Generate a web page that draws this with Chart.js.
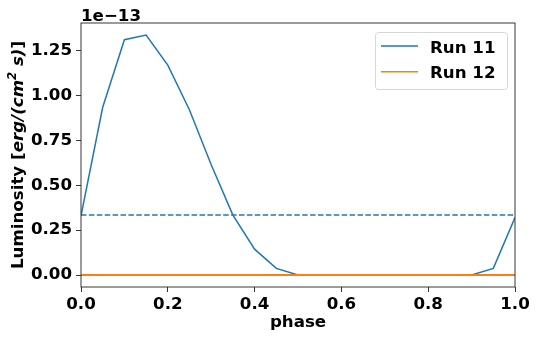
<!DOCTYPE html>
<html>
<head>
<meta charset="utf-8">
<script src="https://cdn.jsdelivr.net/npm/chart.js@4"></script>
<style>
html,body{margin:0;padding:0;background:#fff;}
#wrap{width:538px;height:340px;position:relative;}
</style>
</head>
<body>
<div id="wrap"><canvas id="c" width="538" height="340"></canvas></div>
<script>
// Data (luminosity in units of 1e-13 erg/(cm^2 s))
const phase = [0.00,0.05,0.10,0.15,0.20,0.25,0.30,0.35,0.40,0.45,0.50,0.55,0.60,0.65,0.70,0.75,0.80,0.85,0.90,0.95,1.00];
const run11 = [0.330,0.935,1.312,1.338,1.170,0.920,0.615,0.334,0.144,0.037,0.000,0.000,0.000,0.000,0.000,0.000,0.000,0.000,0.000,0.037,0.320];
const run12 = [0,0,0,0,0,0,0,0,0,0,0,0,0,0,0,0,0,0,0,0,0];
const run11Mean = 0.334;
const run12Mean = 0.000;
const seriesLabels = ["Run 11", "Run 12"];
const xTicks = [0.0,0.2,0.4,0.6,0.8,1.0];
const yTicks = [0.00,0.25,0.50,0.75,1.00,1.25];
const offsetText = "1e\u221213";
const xTitle = "phase";

const FONT = "'DejaVu Sans'";
const FS = 16.67;
const C1 = '#1f77b4', C2 = '#ff7f0e';

const pts = (xs, ys) => xs.map((x,i)=>({x:x, y:ys[i]}));
const meanPts = (m) => [{x:phase[0], y:m},{x:phase[phase.length-1], y:m}];

const overlay = {
  id:'overlay',
  afterDraw(chart){
    const ctx = chart.ctx, a = chart.chartArea;
    ctx.save();
    // frame
    ctx.strokeStyle = '#222'; ctx.lineWidth = 0.9;
    ctx.strokeRect(a.left, a.top, a.right-a.left, a.bottom-a.top);
    // offset text
    ctx.fillStyle = '#000';
    ctx.font = `bold ${FS}px ${FONT}`;
    ctx.textAlign = 'left'; ctx.textBaseline = 'alphabetic';
    ctx.fillText(offsetText, a.left, 20.5);
    // legend
    const lx = 375, ly = 32, lw = 132, lh = 57;
    ctx.fillStyle = 'rgba(255,255,255,0.8)';
    ctx.strokeStyle = '#d6d6d6'; ctx.lineWidth = 1;
    ctx.beginPath();
    if (ctx.roundRect) ctx.roundRect(lx+0.5, ly+0.5, lw, lh, 3); else ctx.rect(lx+0.5, ly+0.5, lw, lh);
    ctx.fill(); ctx.stroke();
    const ds = chart.data.datasets.filter(d => seriesLabels.includes(d.label));
    ds.forEach((d, i) => {
      const yy = 46 + i*25.7;
      ctx.strokeStyle = d.borderColor; ctx.lineWidth = 1.5; ctx.setLineDash([]);
      ctx.beginPath(); ctx.moveTo(381, yy); ctx.lineTo(418, yy); ctx.stroke();
      ctx.fillStyle = '#000';
      ctx.font = `bold ${FS}px ${FONT}`;
      ctx.textBaseline = 'alphabetic';
      ctx.fillText(d.label, 430, yy + 6.5);
    });
    // y-axis label (rich text)
    const segs = [
      {t:'Luminosity [', f:`bold ${FS}px ${FONT}`, dy:0},
      {t:'erg/(cm', f:`italic bold ${FS}px ${FONT}`, dy:0},
      {t:'2', f:`italic bold ${FS*0.7}px ${FONT}`, dy:-7},
      {t:' s)', f:`italic bold ${FS}px ${FONT}`, dy:0},
      {t:']', f:`bold ${FS}px ${FONT}`, dy:0}
    ];
    let total = 0;
    segs.forEach(s => { ctx.font = s.f; s.w = ctx.measureText(s.t).width; total += s.w; });
    ctx.translate(23, (a.top + a.bottom)/2);
    ctx.rotate(-Math.PI/2);
    let cx = -total/2;
    ctx.fillStyle = '#000'; ctx.textAlign = 'left'; ctx.textBaseline = 'alphabetic';
    segs.forEach(s => { ctx.font = s.f; ctx.fillText(s.t, cx, s.dy); cx += s.w; });
    ctx.restore();
  }
};

new Chart(document.getElementById('c'), {
  type: 'line',
  data: {
    datasets: [
      {label: seriesLabels[0], data: pts(phase, run11), borderColor: C1, backgroundColor: C1, borderWidth: 1.5, pointRadius: 0, tension: 0, order: 4},
      {label: seriesLabels[0] + ' mean', data: meanPts(run11Mean), borderColor: C1, borderWidth: 1.5, borderDash: [5.5, 2.4], pointRadius: 0, order: 3},
      {label: seriesLabels[1], data: pts(phase, run12), borderColor: C2, backgroundColor: C2, borderWidth: 2, pointRadius: 0, tension: 0, order: 2},
      {label: seriesLabels[1] + ' mean', data: meanPts(run12Mean), borderColor: C2, borderWidth: 2, borderDash: [5.5, 2.4], pointRadius: 0, order: 1}
    ]
  },
  options: {
    responsive: false,
    animation: false,
    events: [],
    layout: {padding: {top: 23, right: 23, left: 0, bottom: 0}},
    plugins: {legend: {display: false}, tooltip: {enabled: false}},
    scales: {
      x: {
        type: 'linear', min: 0, max: 1,
        afterBuildTicks: s => { s.ticks = xTicks.map(v => ({value: v})); },
        afterFit: s => { s.height = 53; },
        ticks: {color: '#000', padding: 3, maxRotation: 0, font: {family: FONT, size: FS, weight: 'bold'}, callback: v => Number(v).toFixed(1)},
        grid: {display: true, drawOnChartArea: false, drawTicks: true, tickLength: 5, tickColor: '#000', tickWidth: 0.8},
        border: {display: false},
        title: {display: true, text: xTitle, color: '#000', padding: {top: 0, bottom: 7}, font: {family: FONT, size: FS, weight: 'bold'}}
      },
      y: {
        type: 'linear', min: -0.0669, max: 1.405,
        afterBuildTicks: s => { s.ticks = yTicks.map(v => ({value: v})); },
        afterFit: s => { s.width = 81; },
        ticks: {color: '#000', padding: 4, font: {family: FONT, size: FS, weight: 'bold'}, callback: v => Number(v).toFixed(2)},
        grid: {display: true, drawOnChartArea: false, drawTicks: true, tickLength: 5, tickColor: '#000', tickWidth: 0.8},
        border: {display: false}
      }
    }
  },
  plugins: [overlay]
});
</script>
</body>
</html>
